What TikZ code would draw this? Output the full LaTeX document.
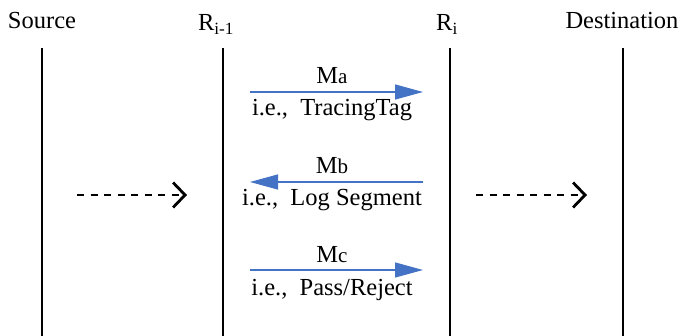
\documentclass[tikz,border=0pt]{standalone}
\usepackage{fontspec}
\setmainfont{Liberation Serif}
\usetikzlibrary{arrows.meta}

\begin{document}
\begin{tikzpicture}[x=1pt,y=-1pt]
		
		\tikzset{
			party/.style={
				font=\fontsize{24.5}{27}\selectfont,
				inner sep=0pt,
				anchor=base
			},
			lifeline/.style={
				line width=2.8pt
			},
			hop/.style={
				line width=2.8pt,
				dash pattern=on 7pt off 6.5pt,
				-{Straight Barb[length=12pt,width=25pt,line width=2.8pt]}
			},
			msg/.style={
				draw=msgblue,
				line width=1.2pt,
				-{Triangle[length=28pt,width=15pt]}
			},
			lbl/.style={
				font=\fontsize{24.5}{27}\selectfont,
				inner sep=0pt,
				anchor=base
			}
		}
		\definecolor{msgblue}{HTML}{4472C4}
		\newcommand{\msgsub}[1]{{\fontsize{21}{23}\selectfont #1}}
		
		\useasboundingbox (0,0) rectangle (686,336);
		
		% parties
		\node[party] (src) at (42,29) {Source};
		\node[party] (rprev) at (216,31) {R\textsubscript{i-1}};
		\node[party] (rcur) at (447,31) {R\textsubscript{i}};
		\node[party] (dst) at (622,29) {Destination};
		
		% lifelines
		\coordinate (srcT) at (42,48);   \coordinate (srcB) at (42,336);
		\coordinate (prevT) at (223,48); \coordinate (prevB) at (223,336);
		\coordinate (curT) at (450,48);  \coordinate (curB) at (450,336);
		\coordinate (dstT) at (623,48);  \coordinate (dstB) at (623,336);
		\draw[lifeline] (srcT) -- (srcB);
		\draw[lifeline] (prevT) -- (prevB);
		\draw[lifeline] (curT) -- (curB);
		\draw[lifeline] (dstT) -- (dstB);
		
		% forwarding hops
		\coordinate (h1a) at (77,195);  \coordinate (h1b) at (187,195);
		\coordinate (h2a) at (476,195); \coordinate (h2b) at (587,195);
		\draw[hop] (h1a) -- (h1b);
		\draw[hop] (h2a) -- (h2b);
		
		% messages between R_{i-1} and R_i
		\coordinate (ma1) at (250,92);  \coordinate (ma2) at (423,92);
		\coordinate (mb1) at (423,182); \coordinate (mb2) at (250,182);
		\coordinate (mc1) at (250,270); \coordinate (mc2) at (423,270);
		\draw[msg] (ma1) -- (ma2);
		\draw[msg] (mb1) -- (mb2);
		\draw[msg] (mc1) -- (mc2);
		
		\node[lbl] (ma) at (332,84) {M\msgsub{a}};
		\node[lbl] (mad) at (332,116) {i.e.,\ \ TracingTag};
		\node[lbl] (mb) at (332,174) {M\msgsub{b}};
		\node[lbl] (mbd) at (332,206) {i.e.,\ \ Log Segment};
		\node[lbl] (mc) at (332,263) {M\msgsub{c}};
		\node[lbl] (mcd) at (332,296) {i.e.,\ \ Pass/Reject};
		
	\end{tikzpicture}
\end{document}
